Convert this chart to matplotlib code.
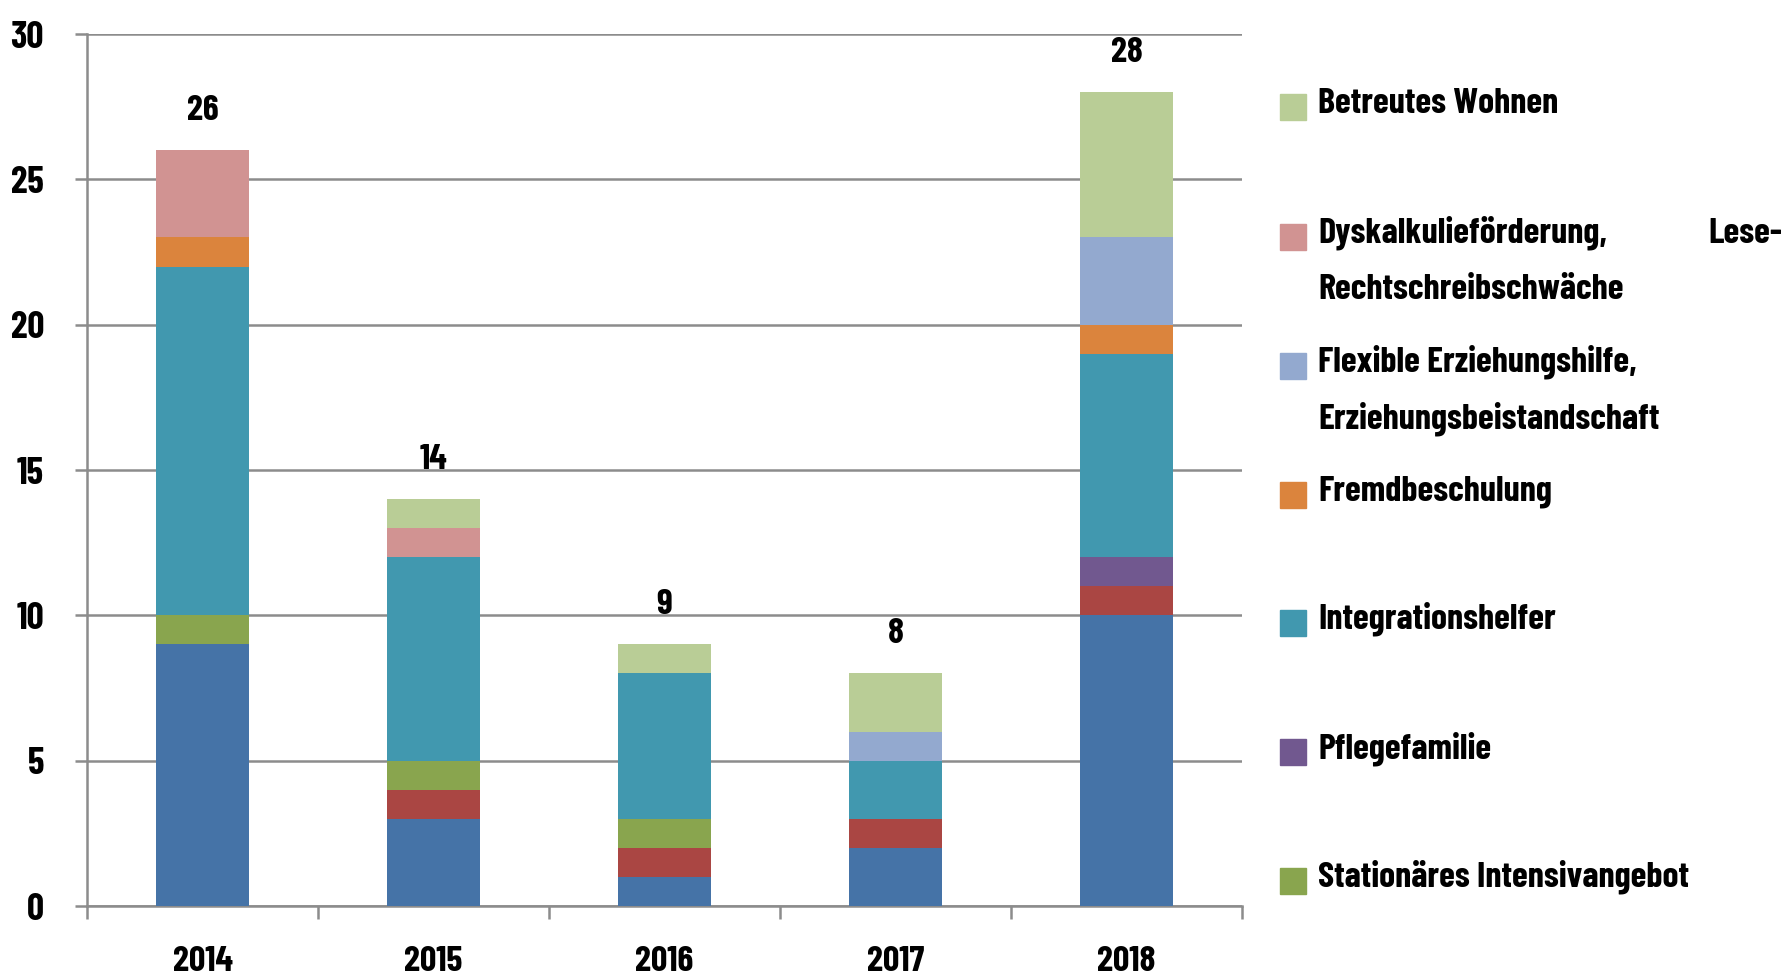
import matplotlib
matplotlib.use("Agg")
import matplotlib.pyplot as plt
from matplotlib.patches import Rectangle

years = ["2014", "2015", "2016", "2017", "2018"]

# stack order from bottom to top
blue = [9, 3, 1, 2, 10]
red = [0, 1, 1, 1, 1]
stationaer = [1, 1, 1, 0, 0]
pflege = [0, 0, 0, 0, 1]
integration = [12, 7, 5, 2, 7]
fremd = [1, 0, 0, 0, 1]
flexibel = [0, 0, 0, 1, 3]
dyskalkulie = [3, 1, 0, 0, 0]
betreut = [0, 1, 1, 2, 5]

totals = [26, 14, 9, 8, 28]

series = [blue, red, stationaer, pflege, integration, fremd, flexibel, dyskalkulie, betreut]
colors = ["#4573A7", "#AA4643", "#89A54E", "#71588F", "#4198AF",
          "#DB843D", "#93A9CF", "#D19392", "#B9CD96"]

legend_labels = ["Betreutes Wohnen",
                 "Dyskalkulieförderung,",
                 "Flexible Erziehungshilfe,",
                 "Fremdbeschulung",
                 "Integrationshelfer",
                 "Pflegefamilie",
                 "Stationäres Intensivangebot"]
legend_colors = ["#B9CD96", "#D19392", "#93A9CF", "#DB843D", "#4198AF", "#71588F", "#89A54E"]

plt.rcParams["font.family"] = ["Barlow Condensed", "DejaVu Sans"]
plt.rcParams["font.weight"] = "bold"

W, H = 1787, 976
fig = plt.figure(figsize=(W / 100, H / 100), dpi=100)
ax = fig.add_axes([87 / W, 1 - 906 / H, (1242 - 87) / W, (906 - 34) / H])

x = range(len(years))
bottom = [0] * len(years)
for vals, c in zip(series, colors):
    ax.bar(x, vals, width=0.4, bottom=bottom, color=c, zorder=3)
    bottom = [b + v for b, v in zip(bottom, vals)]

for i, t in enumerate(totals):
    ax.annotate(str(t), (i, t), xytext=(0, 22), textcoords="offset points",
                ha="center", va="baseline", fontsize=26, fontweight="bold")

gray = "#8c8c8c"
ax.set_xlim(-0.5, 4.5)
ax.set_ylim(0, 30)
ax.set_yticks(range(0, 31, 5))
ax.yaxis.grid(True, color=gray, linewidth=1.8, zorder=0)
ax.set_xticks(list(x))
ax.set_xticklabels(years)
ax.set_xticks([-0.5, 0.5, 1.5, 2.5, 3.5, 4.5], minor=True)
ax.tick_params(axis="x", which="major", length=0, pad=29, labelsize=26)
ax.tick_params(axis="x", which="minor", length=9, width=1.8, color=gray, direction="out")
ax.tick_params(axis="y", length=9, width=1.8, color=gray, pad=22, labelsize=27)
for lbl in ax.get_yticklabels():
    lbl.set_verticalalignment("center_baseline")
for s in ["top", "right"]:
    ax.spines[s].set_visible(False)
for s in ["left", "bottom"]:
    ax.spines[s].set_color(gray)
    ax.spines[s].set_linewidth(1.8)

# legend drawn by hand (text is justified in the original)
baselines = [113, 243, 372, 501, 629, 758, 887]
for lab, c, yb in zip(legend_labels, legend_colors, baselines):
    fig.add_artist(Rectangle((1280 / W, 1 - (yb + 7) / H), 26 / W, 26 / H,
                             transform=fig.transFigure, color=c))
    fig.text(1318 / W, 1 - yb / H, lab, fontsize=26, fontweight="bold", va="baseline")
fig.text(1782 / W, 1 - 243 / H, "Lese-", fontsize=26, fontweight="bold", va="baseline", ha="right")
fig.text(1318 / W, 1 - 299 / H, "Rechtschreibschwäche", fontsize=26, fontweight="bold", va="baseline")
fig.text(1318 / W, 1 - 429 / H, "Erziehungsbeistandschaft", fontsize=26, fontweight="bold", va="baseline")

fig.savefig("out.png", dpi=100)
